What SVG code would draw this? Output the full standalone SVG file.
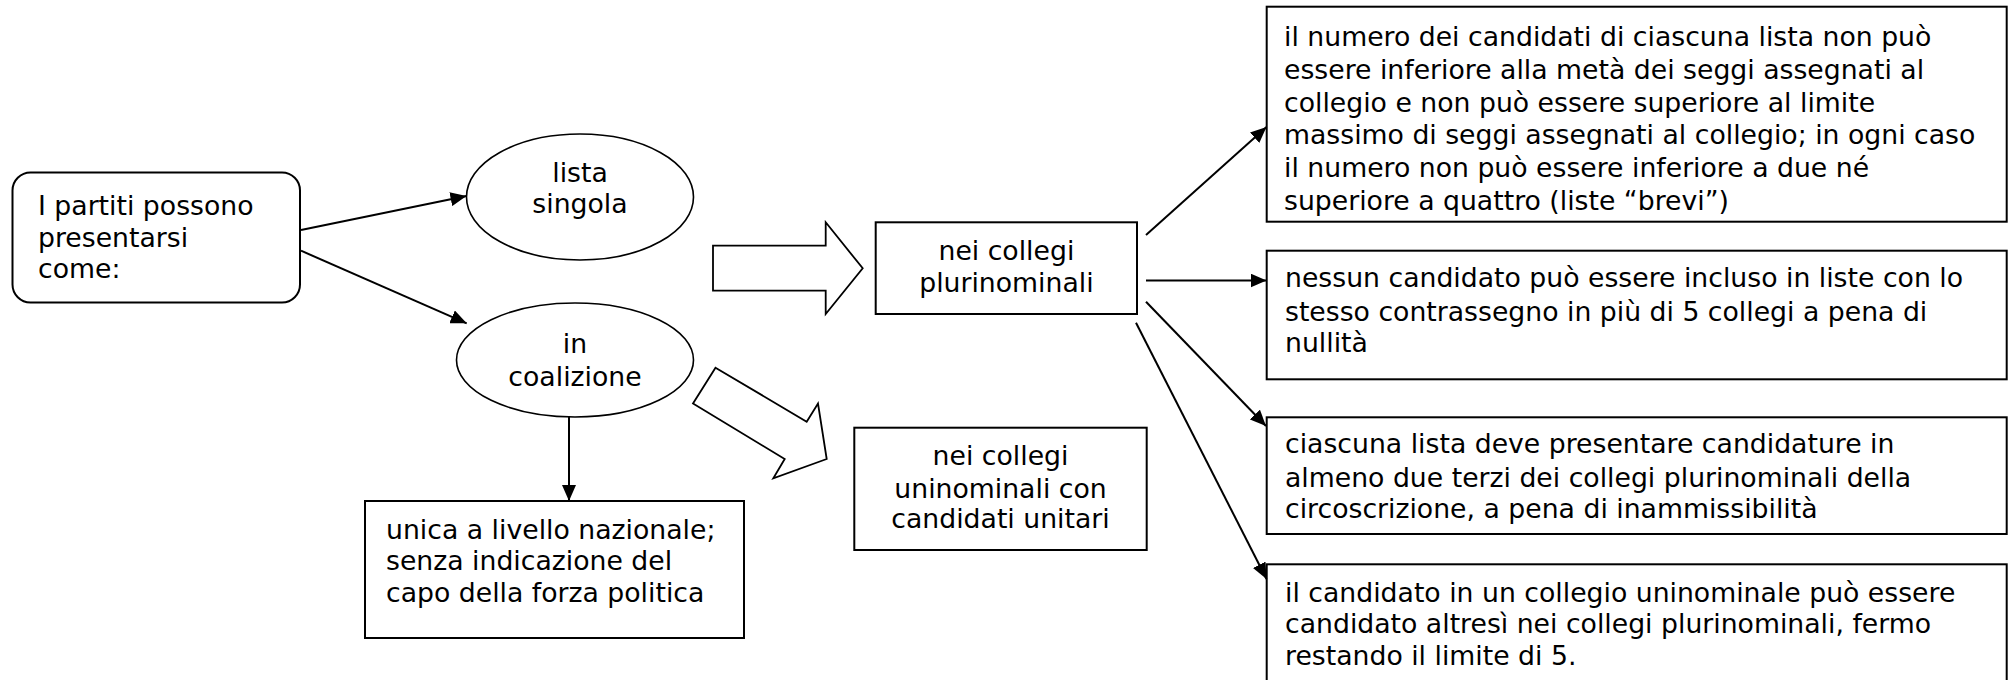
<svg xmlns="http://www.w3.org/2000/svg" width="2013" height="680" viewBox="0 0 2013 680">
<defs>
<marker id="ah" markerUnits="userSpaceOnUse" markerWidth="16" markerHeight="14" refX="16" refY="7" orient="auto">
<path d="M0,0 L16,7 L0,14 z" fill="#000"/>
</marker>
<style>
text{font-family:"DejaVu Sans",Verdana,sans-serif;font-size:26.7px;fill:#000}
.c{text-anchor:middle}
.box{fill:#fff;stroke:#000;stroke-width:2}
.ell{fill:#fff;stroke:#000;stroke-width:1.6}
.blk{fill:#fff;stroke:#000;stroke-width:1.8;stroke-linejoin:miter}
.ln{stroke:#000;stroke-width:2;fill:none;marker-end:url(#ah)}
</style>
</defs>
<rect width="2013" height="680" fill="#fff"/>

<g id="partiti">
<rect class="box" x="12.5" y="172.5" width="287.5" height="130" rx="18" ry="18"/>
<text x="38" y="215">I partiti possono</text>
<text x="38" y="247">presentarsi</text>
<text x="38" y="278">come:</text>
</g>

<g id="lista-singola">
<ellipse class="ell" cx="580" cy="197" rx="113.5" ry="63"/>
<text class="c" x="580" y="182">lista</text>
<text class="c" x="580" y="213">singola</text>
</g>

<g id="in-coalizione">
<ellipse class="ell" cx="575" cy="360" rx="118.5" ry="57"/>
<text class="c" x="575" y="353">in</text>
<text class="c" x="575" y="386">coalizione</text>
</g>

<g id="unica">
<rect class="box" x="365" y="501" width="379" height="137"/>
<text x="386" y="539">unica a livello nazionale;</text>
<text x="386" y="570">senza indicazione del</text>
<text x="386" y="602">capo della forza politica</text>
</g>

<g id="freccia-pluri">
<polygon class="blk" points="713,245.7 825.7,245.7 825.7,222.3 862.7,268.3 825.7,314 825.7,290.7 713,290.7"/>
</g>

<g id="freccia-uni">
<polygon class="blk" points="715.5,367.7 806.7,421.7 818,403.5 826.7,459 773.3,478.3 784.7,459 693,403.5"/>
</g>

<g id="plurinominali">
<rect class="box" x="875.7" y="222.3" width="261.3" height="91.7"/>
<text class="c" x="1006.4" y="260">nei collegi</text>
<text class="c" x="1006.4" y="291.7">plurinominali</text>
</g>

<g id="uninominali">
<rect class="box" x="854.3" y="427.7" width="292.4" height="122.3"/>
<text class="c" x="1000.5" y="465">nei collegi</text>
<text class="c" x="1000.5" y="497.7">uninominali con</text>
<text class="c" x="1000.5" y="528.3">candidati unitari</text>
</g>

<g id="regola1">
<rect class="box" x="1266.7" y="6.7" width="740" height="215"/>
<text x="1284" y="46">il numero dei candidati di ciascuna lista non può</text>
<text x="1284" y="78.8">essere inferiore alla metà dei seggi assegnati al</text>
<text x="1284" y="111.6">collegio e non può essere superiore al limite</text>
<text x="1284" y="144.4">massimo di seggi assegnati al collegio; in ogni caso</text>
<text x="1284" y="177.2">il numero non può essere inferiore a due né</text>
<text x="1284" y="210">superiore a quattro (liste “brevi”)</text>
</g>

<g id="regola2">
<rect class="box" x="1266.7" y="250.7" width="740" height="128.6"/>
<text x="1285" y="287.3">nessun candidato può essere incluso in liste con lo</text>
<text x="1285" y="320.7">stesso contrassegno in più di 5 collegi a pena di</text>
<text x="1285" y="352.3">nullità</text>
</g>

<g id="regola3">
<rect class="box" x="1266.7" y="417.3" width="740" height="116.7"/>
<text x="1285" y="453.3">ciascuna lista deve presentare candidature in</text>
<text x="1285" y="486.7">almeno due terzi dei collegi plurinominali della</text>
<text x="1285" y="518.3">circoscrizione, a pena di inammissibilità</text>
</g>

<g id="regola4">
<rect class="box" x="1266.7" y="564.3" width="740" height="130"/>
<text x="1285" y="601.7">il candidato in un collegio uninominale può essere</text>
<text x="1285" y="633.3">candidato altresì nei collegi plurinominali, fermo</text>
<text x="1285" y="665">restando il limite di 5.</text>
</g>

<g id="connettori">
<line class="ln" x1="301" y1="230" x2="466.5" y2="196"/>
<line class="ln" x1="301" y1="250.7" x2="466.7" y2="323.3"/>
<line class="ln" x1="569" y1="417" x2="569" y2="501"/>
<line class="ln" x1="1146" y1="235" x2="1266.5" y2="127"/>
<line class="ln" x1="1146" y1="280.5" x2="1266.5" y2="280.5"/>
<line class="ln" x1="1146" y1="301.7" x2="1266" y2="426"/>
<line class="ln" x1="1136" y1="322.7" x2="1266.5" y2="579"/>
</g>
</svg>
